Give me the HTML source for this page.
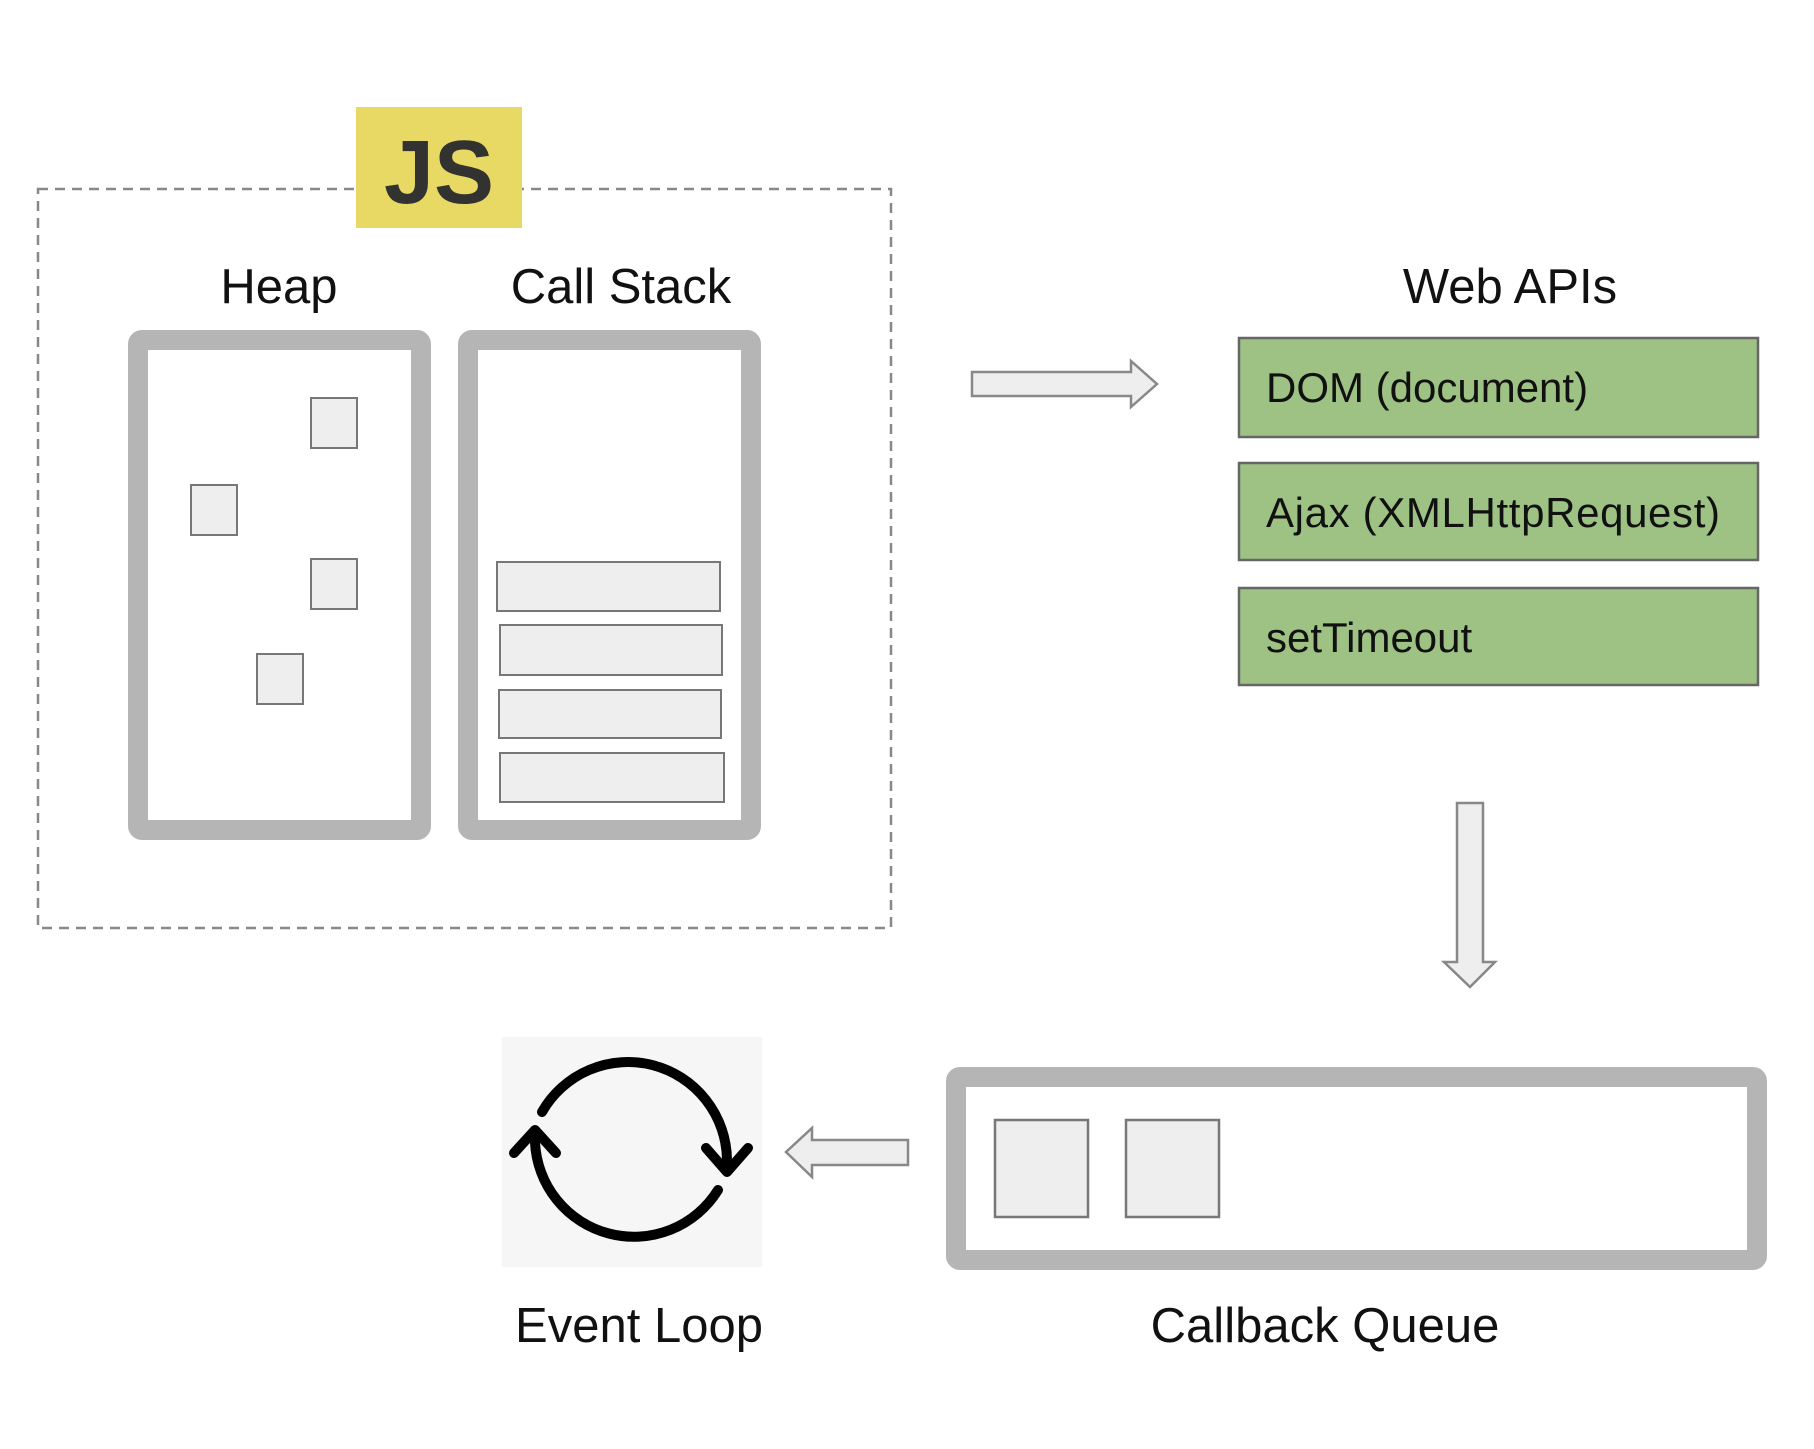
<!DOCTYPE html>
<html><head><meta charset="utf-8"><style>
html,body{margin:0;padding:0;background:#fff;}
body{width:1814px;height:1444px;overflow:hidden;}
text{font-family:"Liberation Sans",Arial,sans-serif;}
</style></head><body>
<svg width="1814" height="1444" viewBox="0 0 1814 1444" xmlns="http://www.w3.org/2000/svg">
<rect x="38" y="189" width="853" height="739" fill="none" stroke="#888" stroke-width="2.5" stroke-dasharray="10,7"/>
<rect x="356" y="107" width="166" height="121" fill="#e8d964"/>
<text x="439" y="203" text-anchor="middle" font-size="90" font-weight="bold" fill="#323330">JS</text>
<text x="279" y="303" text-anchor="middle" font-size="49" fill="#111">Heap</text>
<text x="621" y="303" text-anchor="middle" font-size="49" fill="#111">Call Stack</text>
<text x="1510" y="303" text-anchor="middle" font-size="49" fill="#111">Web APIs</text>
<rect x="138" y="340" width="283" height="490" rx="4" fill="#fff" stroke="#b5b5b5" stroke-width="20"/>
<rect x="468" y="340" width="283" height="490" rx="4" fill="#fff" stroke="#b5b5b5" stroke-width="20"/>
<g fill="#eee" stroke="#777" stroke-width="2">
<rect x="311" y="398" width="46" height="50"/>
<rect x="191" y="485" width="46" height="50"/>
<rect x="311" y="559" width="46" height="50"/>
<rect x="257" y="654" width="46" height="50"/>
<rect x="497" y="562" width="223" height="49"/>
<rect x="500" y="625" width="222" height="50"/>
<rect x="499" y="690" width="222" height="48"/>
<rect x="500" y="753" width="224" height="49"/>
</g>
<polygon points="972,372 1131,372 1131,361 1157,384 1131,407 1131,396 972,396" fill="#eee" stroke="#888" stroke-width="2.5"/>
<g fill="#9dc284" stroke="#666" stroke-width="2.5">
<rect x="1239" y="338" width="519" height="99"/>
<rect x="1239" y="463" width="519" height="97"/>
<rect x="1239" y="588" width="519" height="97"/>
</g>
<g font-size="42" fill="#111">
<text x="1266" y="402">DOM (document)</text>
<text x="1266" y="527" textLength="454">Ajax (XMLHttpRequest)</text>
<text x="1266" y="652">setTimeout</text>
</g>
<polygon points="1457,803 1483,803 1483,962 1495,962 1470,987 1444,962 1457,962" fill="#eee" stroke="#888" stroke-width="2.5"/>
<rect x="956" y="1077" width="801" height="183" rx="4" fill="#fff" stroke="#b5b5b5" stroke-width="20"/>
<g fill="#eee" stroke="#777" stroke-width="2.5">
<rect x="995" y="1120" width="93" height="97"/>
<rect x="1126" y="1120" width="93" height="97"/>
</g>
<polygon points="908,1140 812,1140 812,1128 786,1152 812,1177 812,1165 908,1165" fill="#eee" stroke="#888" stroke-width="2.5"/>
<rect x="502" y="1037" width="260" height="230" fill="#f6f6f6"/>
<g fill="none" stroke="#000" stroke-width="10" stroke-linecap="round" stroke-linejoin="round">
<path d="M542,1112 A99,99 0 0 1 727,1160"/>
<path d="M718,1190 A99,99 0 0 1 535,1142"/>
<path d="M706,1148 L727,1172 L748,1148"/>
<path d="M514,1153 L535,1130 L556,1153"/>
</g>
<text x="639" y="1342" text-anchor="middle" font-size="49" fill="#111">Event Loop</text>
<text x="1325" y="1342" text-anchor="middle" font-size="49" fill="#111">Callback Queue</text>
</svg>
</body></html>
